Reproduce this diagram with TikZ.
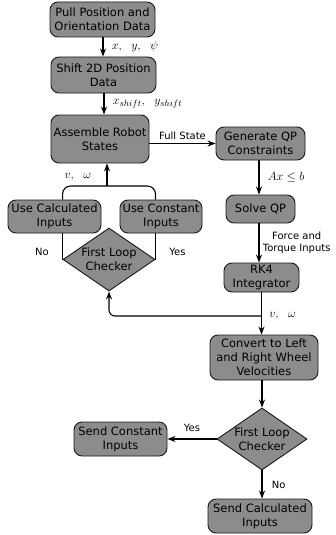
\documentclass[tikz,border=0pt]{standalone}
\usepackage{fontspec}
\setmainfont{DejaVu Sans}
\usetikzlibrary{shapes.geometric,arrows.meta}
\definecolor{boxgray}{RGB}{140,140,140}
\begin{document}
\begin{tikzpicture}
[x=1pt,y=-1pt,
  boxdecorate/.style={shape=rectangle,rounded corners=8pt,draw=black!90,fill=boxgray,
    line width=0.9pt,align=center,inner sep=0pt,font=\fontsize{11.5}{14}\selectfont},%
  checkdecorate/.style={shape=diamond,draw=black!90,fill=boxgray,line width=0.9pt,
    align=center,inner sep=0pt,aspect=1.46,minimum width=92pt,minimum height=63pt,
    font=\fontsize{11.5}{14}\selectfont},%
  linedecorate/.style={-,line width=1.1pt},%
  arrowdecorate/.style={-{Stealth[length=8pt,width=6pt]},line width=1.1pt},%
  labeldecorate/.style={font=\fontsize{10}{12}\selectfont,align=center},%
  mathdecorate/.style={font=\fontsize{13}{15}\selectfont}]
\useasboundingbox (0,0) rectangle (336,535);
%% boxes
\node (pull) at (102.5,19.5) [boxdecorate,minimum width=105pt,minimum height=35pt] {Pull Position and\\Orientation Data};
\node (shift) at (103.5,75) [boxdecorate,minimum width=105pt,minimum height=36pt] {Shift 2D Position\\Data};
\node (assemble) at (100,139) [boxdecorate,minimum width=98pt,minimum height=48pt] {Assemble Robot\\States};
\node (generate) at (260.5,143.5) [boxdecorate,minimum width=89pt,minimum height=33pt] {Generate QP\\Constraints};
\node (solve) at (260.5,209) [boxdecorate,minimum width=69pt,minimum height=28pt] {Solve QP};
\node (rk) at (261.5,277.5) [boxdecorate,minimum width=75pt,minimum height=29pt] {RK4\\Integrator};
\node (convert) at (264,357.5) [boxdecorate,minimum width=108pt,minimum height=45pt] {Convert to Left\\and Right Wheel\\Velocities};
\node (checkout) at (262,439) [checkdecorate,minimum width=90pt,minimum height=62pt] {First Loop\\Checker};
\node (sendconst) at (120.5,439) [boxdecorate,minimum width=93pt,minimum height=34pt] {Send Constant\\Inputs};
\node (sendcalc) at (260,516) [boxdecorate,minimum width=104pt,minimum height=34pt] {Send Calculated\\Inputs};
\node (checkin) at (109,259.5) [checkdecorate] {First Loop\\Checker};
\node (usecalc) at (54.5,216.5) [boxdecorate,minimum width=93pt,minimum height=33pt] {Use Calculated\\Inputs};
\node (useconst) at (161,216.5) [boxdecorate,minimum width=82pt,minimum height=33pt] {Use Constant\\Inputs};
%% helper points
\coordinate (merge) at (107,186);
\coordinate (split) at (261.5,316);
%% connectors
\draw[arrowdecorate] (pull.south -| 103,0) -- (shift.north -| 103,0)
  node[midway,right=5pt,mathdecorate] {$x,\;\ y,\;\ \psi$};
\draw[arrowdecorate] (shift.south -| 104,0) -- (assemble.north -| 104,0)
  node[midway,right=5pt,mathdecorate] {$x_{shift},\;\ y_{shift}$};
\draw[arrowdecorate] (assemble.east |- generate) -- (generate.west)
  node[midway,above,labeldecorate] {Full State};
\draw[arrowdecorate] (generate.south -| 259,0) -- (solve.north -| 259,0)
  node[midway,right=5pt,mathdecorate] {$Ax\leq b$};
\draw[arrowdecorate] (solve.south -| 259,0) -- (rk.north -| 259,0)
  node[midway,right,labeldecorate] {Force and\\Torque Inputs};
\draw[arrowdecorate] (rk.south) -- (convert.north -| rk.south)
  node[pos=0.55,right=4pt,mathdecorate] {$v,\;\ \omega$};
\draw[arrowdecorate,rounded corners=6pt] (split) -| (checkin.south);
\draw[linedecorate] (checkin.west) -- (checkin.west |- usecalc.south)
  node[pos=0.3,left=10pt,labeldecorate] {No};
\draw[linedecorate] (checkin.east) -- (checkin.east |- useconst.south)
  node[pos=0.3,right=10pt,labeldecorate] {Yes};
\draw[linedecorate,rounded corners=8pt] (checkin.west |- usecalc.north) |- (merge) -| (checkin.east |- useconst.north);
\draw[arrowdecorate] (merge) -- (merge |- assemble.south)
  node[pos=0.4,left=12pt,mathdecorate] {$v,\;\ \omega$};
\draw[arrowdecorate] (convert.south -| checkout.north) -- (checkout.north);
\draw[arrowdecorate] (checkout.west) -- (sendconst.east)
  node[midway,above=3pt,labeldecorate] {Yes};
\draw[arrowdecorate] (checkout.south) -- (sendcalc.north -| checkout.south)
  node[midway,right=6pt,labeldecorate] {No};
\end{tikzpicture}
\end{document}
